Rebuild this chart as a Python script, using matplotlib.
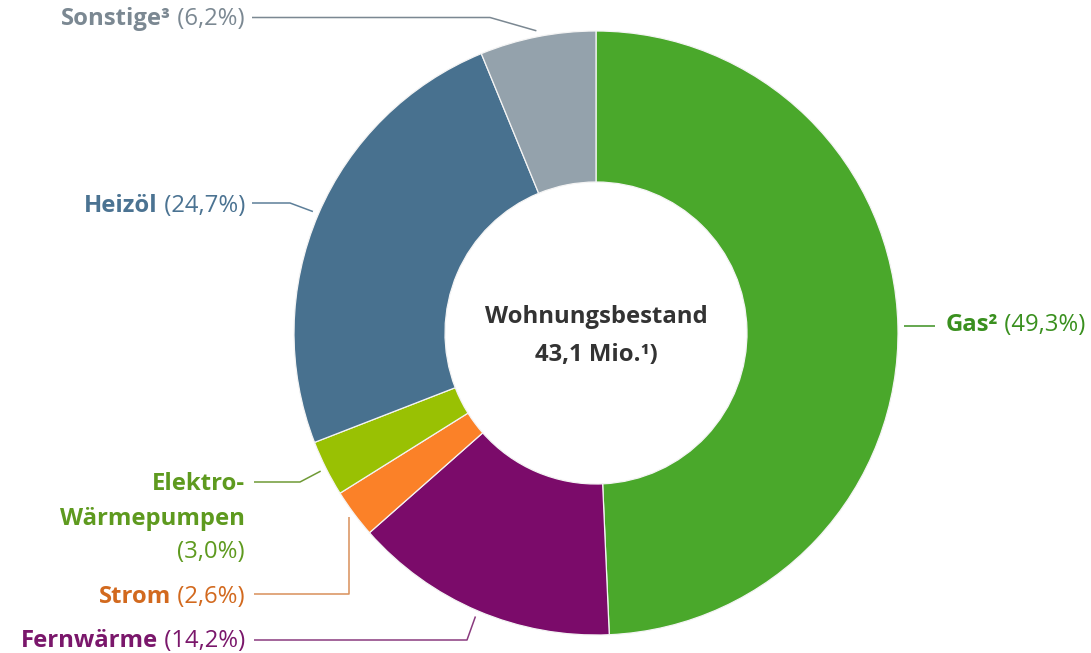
import numpy as np
import matplotlib
matplotlib.use('agg')
import matplotlib.pyplot as plt

plt.rcParams['font.family'] = ['Open Sans', 'DejaVu Sans']

# data (clockwise from 12 o'clock)
names = ['Gas²', 'Fernwärme', 'Strom', 'Elektro-\nWärmepumpen', 'Heizöl', 'Sonstige³']
shares = [49.3, 14.2, 2.6, 3.0, 24.7, 6.2]
share_labels = ['(49,3%)', '(14,2%)', '(2,6%)', '(3,0%)', '(24,7%)', '(6,2%)']
wedge_colors = ['#4aa82b', '#7b0b6a', '#fb8128', '#99c103', '#48718f', '#94a2ac']
text_colors = ['#3a901f', '#7a176b', '#d2691e', '#5e9a1f', '#4b7392', '#7b8892']
line_colors = ['#3a901f', '#8a3a7e', '#d9905a', '#6f9a35', '#5d7f99', '#7b8892']
center_title = 'Wohnungsbestand'
center_value = '43,1 Mio.¹)'

W, H = 1091, 653
fig = plt.figure(figsize=(W / 100, H / 100), dpi=100)
ax = fig.add_axes([0, 0, 1, 1])

def Y(y):
    return H - y

cx, cy, R = 596, Y(333), 302
wedges, _ = ax.pie(shares, colors=wedge_colors, startangle=90, counterclock=False,
                   center=(cx, cy), radius=R, frame=True,
                   wedgeprops=dict(width=R * 0.5, edgecolor='#f4f4f4', linewidth=0.9))
ax.set_xlim(0, W)
ax.set_ylim(0, H)
ax.set_aspect('equal')
ax.axis('off')

# leader anchors at the outer edge of each wedge
anchors = []
for w in wedges:
    a = np.deg2rad((w.theta1 + w.theta2) / 2)
    anchors.append((cx + 1.02 * R * np.cos(a), cy + 1.02 * R * np.sin(a)))

# leader elbows and ends (pixel layout, y from top)
elbows = [None, (467, 640), ('v', 594), (300, 482), (290, 203), (490, 17.5)]
ends = [935, 254, 254, 254, 252, 252]

for i, (ax_, ay_) in enumerate(anchors):
    el = elbows[i]
    if el is None:
        xs, ys = [ax_, ends[i]], [ay_, ay_]
    elif el[0] == 'v':
        xs, ys = [ax_, ax_, ends[i]], [ay_, Y(el[1]), Y(el[1])]
    else:
        xs, ys = [ax_, el[0], ends[i]], [ay_, Y(el[1]), Y(el[1])]
    ax.plot(xs, ys, color=line_colors[i], lw=1.1, solid_capstyle='butt')

fs = 17.2
renderer = fig.canvas.get_renderer()

def two_part(x, y, bold, regular, color, align):
    if align == 'right':
        t = ax.text(x, Y(y), ' ' + regular, ha='right', va='baseline',
                    fontsize=fs, color=color)
        wd = t.get_window_extent(renderer).width
        ax.text(x - wd, Y(y), bold, ha='right', va='baseline', fontsize=fs,
                fontweight='bold', color=color)
    else:
        t = ax.text(x, Y(y), bold, ha='left', va='baseline', fontsize=fs,
                    fontweight='bold', color=color)
        wd = t.get_window_extent(renderer).width
        ax.text(x + wd, Y(y), ' ' + regular, ha='left', va='baseline',
                fontsize=fs, color=color)

# Gas
two_part(946, 331, names[0], share_labels[0], text_colors[0], 'left')
# Fernwärme
two_part(245, 647, names[1], share_labels[1], text_colors[1], 'right')
# Strom
two_part(245, 603, names[2], share_labels[2], text_colors[2], 'right')
# Elektro-Wärmepumpen
for j, line in enumerate(names[3].split('\n')):
    ax.text(245, Y(490 + 35 * j), line, ha='right', va='baseline', fontsize=fs,
            fontweight='bold', color=text_colors[3])
ax.text(245, Y(558), share_labels[3], ha='right', va='baseline', fontsize=fs,
        color=text_colors[3])
# Heizöl
two_part(245, 212, names[4], share_labels[4], text_colors[4], 'right')
# Sonstige
two_part(245, 25, names[5], share_labels[5], text_colors[5], 'right')

# centre text
ax.text(cx, Y(323), center_title, ha='center', va='baseline', fontsize=fs,
        fontweight='bold', color='#333333')
ax.text(cx, Y(361), center_value, ha='center', va='baseline', fontsize=fs,
        fontweight='bold', color='#333333')

fig.savefig('out.png', dpi=100)
